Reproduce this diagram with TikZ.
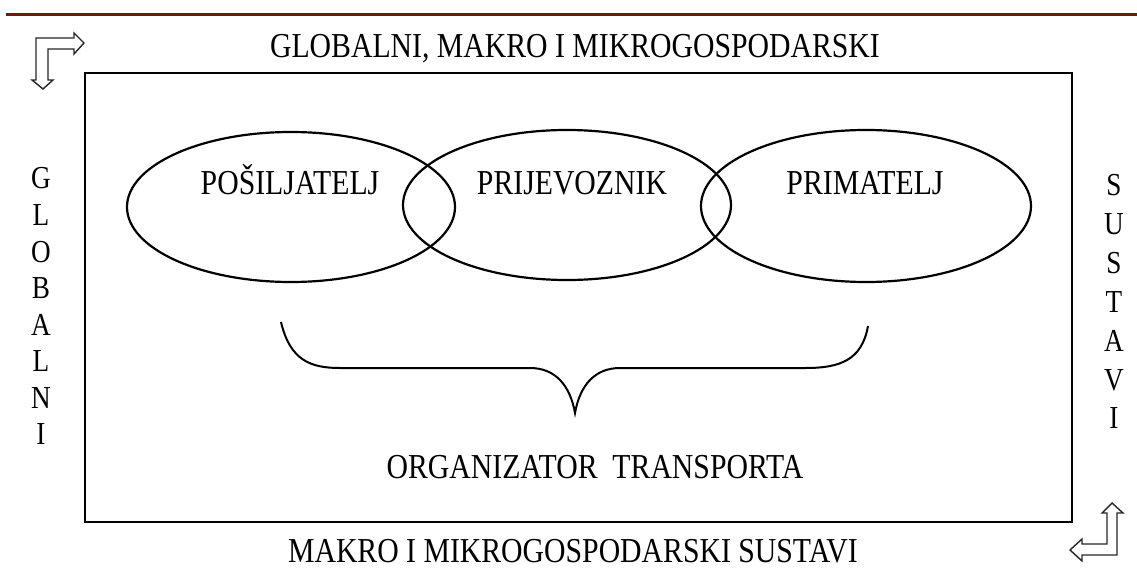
\documentclass[tikz,border=0pt]{standalone}
\usepackage{fontspec}
\setmainfont{Liberation Serif}[FakeStretch=0.85]
\definecolor{rulered}{RGB}{115,22,12}
\begin{document}
\begin{tikzpicture}[x=1pt,y=-1pt,
  lbl/.style={font=\fontsize{35}{38}\selectfont, inner sep=0pt, anchor=base},
  vlbl/.style={font=\fontsize{32}{36}\selectfont, inner sep=0pt, anchor=base},
  frame/.style={draw=black, line width=2.4pt},
  set/.style={draw=black, line width=2.2pt},
  bentarrow/.style={draw=black!85, line width=1.4pt, fill=white, line join=miter}]
\useasboundingbox (0,0) rectangle (1137,572);

% rule along the top edge
\draw[rulered, line width=3pt] (6,14.5) -- (1137,14.5);

% outer frame
\draw[frame] (85,73) rectangle (1072,522);

% the three overlapping sets
\draw[set] (291,207) ellipse [x radius=164, y radius=75];
\draw[set] (567,205) ellipse [x radius=164, y radius=75];
\draw[set] (866,206) ellipse [x radius=165, y radius=76];

\node[lbl] (sender)   at (290,194) {POŠILJATELJ};
\node[lbl] (carrier)  at (572,194) {PRIJEVOZNIK};
\node[lbl] (receiver) at (865,194) {PRIMATELJ};

% brace gathering the three parties
\draw[black, line width=2pt]
  (281,322) .. controls (290,360) and (310,368) .. (340,368) -- (530,368)
  .. controls (555,368) and (570,385) .. (575,413)
  .. controls (580,385) and (595,368) .. (620,368) -- (806,368)
  .. controls (840,368) and (862,360) .. (868,326);

\node[lbl] (organizer) at (595,478) {ORGANIZATOR\ \ TRANSPORTA};

% surrounding labels
\node[lbl] (topline)    at (575,58)  {GLOBALNI, MAKRO I MIKROGOSPODARSKI};
\node[lbl] (bottomline) at (573,562) {MAKRO I MIKROGOSPODARSKI SUSTAVI};

\foreach \ch [count=\i from 0] in {G,L,O,B,A,L,N,I}
  \node[vlbl] (gl\i) at (41,{189+36.5*\i}) {\ch};
\foreach \ch [count=\i from 0] in {S,U,S,T,A,V,I}
  \node[vlbl] (su\i) at (1114,{196+38.8*\i}) {\ch};

% bent outline arrows in the corners
\draw[bentarrow] (43,89) -- (53,80) -- (48,80) -- (48,49) -- (74,49) -- (74,54)
  -- (84,43) -- (74,33) -- (74,38) -- (36,38) -- (36,80) -- (32,80) -- cycle;
\draw[bentarrow] (1112,503) -- (1123,513) -- (1117,513) -- (1117,555) -- (1082,555)
  -- (1082,561) -- (1070,550) -- (1082,539) -- (1082,544) -- (1107,544)
  -- (1107,513) -- (1102,513) -- cycle;
\end{tikzpicture}
\end{document}
